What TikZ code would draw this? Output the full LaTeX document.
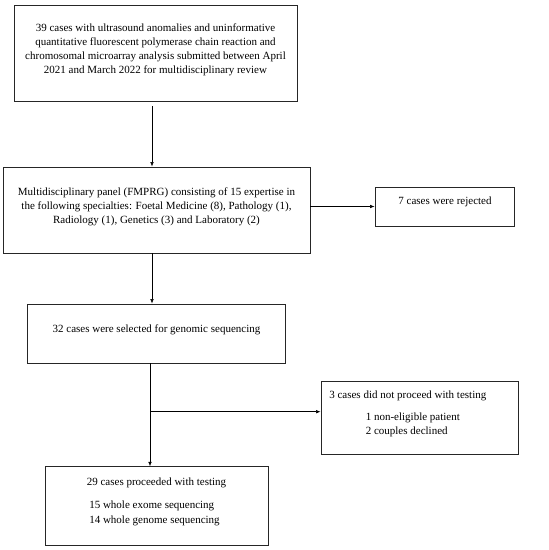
\documentclass[tikz,border=0pt]{standalone}
\usepackage{fontspec}
\setmainfont{Liberation Serif}
\usetikzlibrary{arrows.meta}
\tikzset{
	box/.style={draw=black!85, line width=0.9pt, rectangle, inner sep=0pt},
	txt/.style={inner sep=0pt, font=\fontsize{11}{14.2}\selectfont},
}
\begin{document}
\begin{tikzpicture}[x=1pt,y=-1pt,->,>={Latex[length=4.5pt,width=3.6pt]},line width=0.6pt]
		\useasboundingbox (0,0) rectangle (549,550);
        % boxes
        \node[box, minimum width=283pt, minimum height=96pt] (review) at (155.5,53) {};
        \node[box, minimum width=307pt, minimum height=86pt] (panel) at (156.5,210) {};
        \node[box, minimum width=139pt, minimum height=39pt] (rejected) at (444.5,206.5) {};
        \node[box, minimum width=258pt, minimum height=59pt] (selected) at (156,333.5) {};
        \node[box, minimum width=197pt, minimum height=73pt] (notproc) at (419.5,417.5) {};
        \node[box, minimum width=223pt, minimum height=79pt] (proceeded) at (156.5,506.3) {};
        % texts
        \node[txt, align=center] (reviewtxt) at (155.5,50) {39 cases with ultrasound anomalies and uninformative\\quantitative fluorescent polymerase chain reaction and\\chromosomal microarray analysis submitted between April\\2021 and March 2022 for multidisciplinary review};
        \node[txt, align=center] (paneltxt) at (156.5,206.7) {Multidisciplinary panel (FMPRG) consisting of 15 expertise in\\the following specialties: Foetal Medicine (8), Pathology (1),\\Radiology (1), Genetics (3) and Laboratory (2)};
        \node[txt] (rejectedtxt) at (445,202) {7 cases were rejected};
        \node[txt] (selectedtxt) at (156.5,330) {32 cases were selected for genomic sequencing};
        \node[txt, anchor=west] (notproctxt) at (329,396) {3 cases did not proceed with testing};
        \node[txt, anchor=west, align=left] (reasons) at (365.5,425.2) {1 non-eligible patient\\2 couples declined};
        \node[txt] (proceededtxt) at (156.5,483) {29 cases proceeded with testing};
        \node[txt, anchor=west, align=left] (methods) at (89,513.3) {15 whole exome sequencing\\14 whole genome sequencing};
        % connectors
        \coordinate (split) at (150,411.7);
        \draw ([xshift=-3.5pt,yshift=-5pt]review.south) -- ([xshift=-4.5pt]panel.north);
        \draw (panel.east |- rejected.west) -- (rejected.west);
        \draw ([xshift=-4.5pt]panel.south) -- ([xshift=-4pt]selected.north);
        \draw (selected.south -| split) -- (proceeded.north -| split);
        \draw (split) -- (split -| notproc.west);
\end{tikzpicture}
\end{document}
